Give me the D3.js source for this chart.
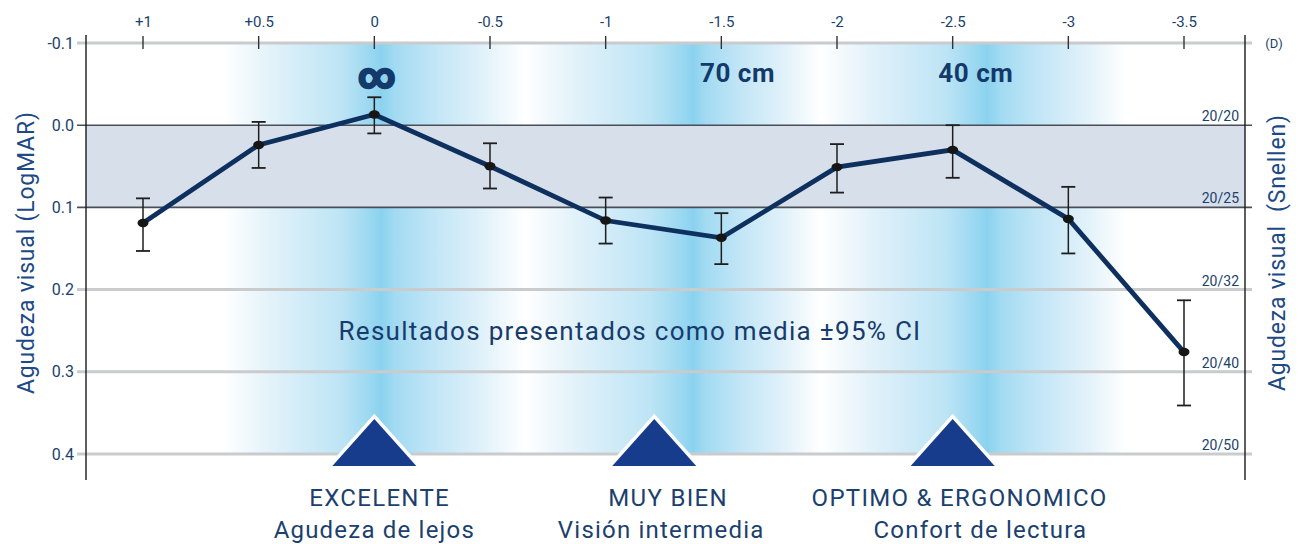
<!DOCTYPE html>
<html>
<head>
<meta charset="utf-8">
<script src="https://cdn.jsdelivr.net/npm/d3@7"></script>
<style>
  html, body { margin: 0; padding: 0; background: #fff; }
  svg { display: block; font-family: Roboto, "Noto Sans", sans-serif; }
</style>
</head>
<body>
<svg id="chart" width="1299" height="544"></svg>
<script>
// Defocus (diopters) and mean visual acuity (LogMAR) with 95% CI
const defocus = [1, 0.5, 0, -0.5, -1, -1.5, -2, -2.5, -3, -3.5];
const defocusLabels = ["+1", "+0.5", "0", "-0.5", "-1", "-1.5", "-2", "-2.5", "-3", "-3.5"];
const logmarMean = [0.119, 0.024, -0.013, 0.050, 0.116, 0.137, 0.051, 0.030, 0.114, 0.276];
const ciLow  = [0.089, -0.004, -0.034, 0.022, 0.088, 0.107, 0.023, 0.000, 0.075, 0.213];
const ciHigh = [0.153, 0.052, 0.010, 0.077, 0.144, 0.169, 0.082, 0.064, 0.156, 0.341];

const logmarTicks = [-0.1, 0.0, 0.1, 0.2, 0.3, 0.4];
const logmarTickLabels = ["-0.1", "0.0", "0.1", "0.2", "0.3", "0.4"];
const snellenValues = [0.0, 0.1, 0.2, 0.3, 0.4];
const snellenLabels = ["20/20", "20/25", "20/32", "20/40", "20/50"];

// Vision zones (diopters): fade-in edge, brightest line, fade-out edge
const zoneStart = [0.65, -0.65, -1.93];
const zonePeak  = [-0.03, -1.38, -2.65];
const zoneEnd   = [-0.65, -1.93, -3.25];
const zoneMarker = [0.0, -1.21, -2.5];
const zoneTitle = ["EXCELENTE", "MUY BIEN", "OPTIMO & ERGONOMICO"];
const zoneSubtitle = ["Agudeza de lejos", "Visión intermedia", "Confort de lectura"];
const zoneTitleAt = [-0.023, -1.27, -2.53];
const zoneSubtitleAt = [0.0, -1.24, -2.62];
const distanceLabels = ["∞", "70 cm", "40 cm"];
const distanceAt = [-0.01, -1.57, -2.6];

const svg = d3.select("#chart");
const textBlue = "#1b3f6e";

const x = d3.scaleLinear().domain([1, -3.5]).range([143, 1184]);
const y = d3.scaleLinear().domain([-0.1, 0.4]).range([43, 454]);
const plotLeft = 86, plotRight = 1245;

// Zone gradients
const defs = svg.append("defs");
zoneStart.forEach((s, i) => {
  const x0 = x(s), x1 = x(zoneEnd[i]), xp = x(zonePeak[i]);
  const p = (xp - x0) / (x1 - x0);
  const g = defs.append("linearGradient")
    .attr("id", "zone" + i).attr("x1", 0).attr("x2", 1).attr("y1", 0).attr("y2", 0);
  const stops = [
    [0, "#ffffff"],
    [p * 0.3, "#e2f2fa"],
    [p * 0.75, "#bde4f5"],
    [p * 0.93, "#9ad8f1"],
    [p, "#8bd2ef"],
    [p + (1 - p) * 0.1, "#a3dbf2"],
    [p + (1 - p) * 0.35, "#c0e5f6"],
    [p + (1 - p) * 0.7, "#e0f1fa"],
    [1, "#ffffff"]
  ];
  stops.forEach(([o, c]) => g.append("stop").attr("offset", o).attr("stop-color", c));
  svg.append("rect")
    .attr("x", x0).attr("width", x1 - x0)
    .attr("y", y(-0.1)).attr("height", y(0.4) - y(-0.1))
    .attr("fill", `url(#zone${i})`);
});

// Good acuity band 0.0 - 0.1
svg.append("rect")
  .attr("x", plotLeft).attr("width", plotRight - plotLeft)
  .attr("y", y(0)).attr("height", y(0.1) - y(0))
  .attr("fill", "#d7e0ea");

// Horizontal grid lines
logmarTicks.forEach(v => {
  const strong = (v === 0 || v === 0.1);
  svg.append("line")
    .attr("x1", 77).attr("x2", 1252)
    .attr("y1", y(v)).attr("y2", y(v))
    .attr("stroke", strong ? "#4a4f57" : "#c9cbcd")
    .attr("stroke-width", strong ? 1.6 : 3);
});

// Vertical axis lines
[plotLeft, plotRight].forEach(px => {
  svg.append("line")
    .attr("x1", px).attr("x2", px).attr("y1", 35).attr("y2", 480)
    .attr("stroke", "#1b1b1b").attr("stroke-width", 1.4);
});

// Top defocus axis
const topAxis = d3.axisTop(x)
  .tickValues(defocus)
  .tickFormat((d, i) => defocusLabels[i])
  .tickSize(0).tickPadding(0);
const gTop = svg.append("g").attr("transform", "translate(0,27)").call(topAxis);
gTop.select(".domain").remove();
gTop.selectAll("text")
  .attr("font-size", 15).attr("fill", textBlue).attr("dy", 0)
  .attr("font-family", "Roboto, sans-serif");
defocus.forEach(d => {
  svg.append("line")
    .attr("x1", x(d)).attr("x2", x(d)).attr("y1", 36).attr("y2", 49)
    .attr("stroke", "#333").attr("stroke-width", 1.4);
});
svg.append("text").attr("x", 1274).attr("y", 48)
  .attr("text-anchor", "middle").attr("font-size", 13).attr("fill", textBlue)
  .text("(D)");

// Left LogMAR axis labels
const leftAxis = d3.axisLeft(y)
  .tickValues(logmarTicks)
  .tickFormat((d, i) => logmarTickLabels[i])
  .tickSize(0).tickPadding(0);
const gLeft = svg.append("g").attr("transform", "translate(74,0)").call(leftAxis);
gLeft.select(".domain").remove();
gLeft.selectAll("text")
  .attr("font-size", 16).attr("fill", textBlue)
  .attr("font-family", "Roboto, sans-serif");

// Snellen labels on the right
snellenValues.forEach((v, i) => {
  svg.append("text")
    .attr("x", 1239).attr("y", y(v) - 4)
    .attr("text-anchor", "end").attr("font-size", 14).attr("fill", textBlue)
    .text(snellenLabels[i]);
});

// Axis titles
svg.append("text")
  .attr("transform", `translate(34,${y(0.155)}) rotate(-90)`)
  .attr("text-anchor", "middle").attr("font-size", 23).attr("letter-spacing", 0.8)
  .attr("fill", "#1d4a85")
  .text("Agudeza visual (LogMAR)");
svg.append("text")
  .attr("transform", `translate(1285,${y(0.155)}) rotate(-90)`)
  .attr("text-anchor", "middle").attr("font-size", 23).attr("letter-spacing", 0.8)
  .attr("fill", "#1d4a85")
  .attr("xml:space", "preserve")
  .text("Agudeza visual  (Snellen)");

// Distance labels inside the zones
distanceLabels.forEach((t, i) => {
  const inf = t === "∞";
  svg.append("text")
    .attr("x", x(distanceAt[i])).attr("y", inf ? 88 : 82)
    .attr("text-anchor", "middle")
    .attr("font-size", inf ? 36 : 26).attr("font-weight", "bold")
    .attr("stroke", inf ? "#133a6a" : "none").attr("stroke-width", inf ? 2.2 : 0)
    .attr("letter-spacing", inf ? 0 : 0.5)
    .attr("fill", "#133a6a")
    .text(t);
});

// Note on the statistics
svg.append("text")
  .attr("x", 630).attr("y", 340).attr("text-anchor", "middle")
  .attr("font-size", 26).attr("letter-spacing", 1.3).attr("fill", "#173c6c")
  .text("Resultados presentados como media ±95% CI");

// Error bars
defocus.forEach((d, i) => {
  const cx = x(d);
  svg.append("line").attr("x1", cx).attr("x2", cx)
    .attr("y1", y(ciLow[i])).attr("y2", y(ciHigh[i]))
    .attr("stroke", "#1e1e1e").attr("stroke-width", 1.5);
  [ciLow[i], ciHigh[i]].forEach(v => {
    svg.append("line").attr("x1", cx - 7).attr("x2", cx + 7)
      .attr("y1", y(v)).attr("y2", y(v))
      .attr("stroke", "#1e1e1e").attr("stroke-width", 1.8);
  });
});

// Mean curve
const line = d3.line().x((d, i) => x(defocus[i])).y(d => y(d));
svg.append("path").datum(logmarMean)
  .attr("d", line)
  .attr("fill", "none").attr("stroke", "#0e305f")
  .attr("stroke-width", 4.8).attr("stroke-linejoin", "miter");
svg.selectAll(".pt").data(logmarMean).enter().append("ellipse")
  .attr("cx", (d, i) => x(defocus[i])).attr("cy", d => y(d))
  .attr("rx", 5.5).attr("ry", 4.2).attr("fill", "#161616");

// Zone markers and captions
zoneMarker.forEach((m, i) => {
  const cx = x(m), base = 466, h = 47, hw = 42;
  svg.append("path")
    .attr("d", `M${cx - hw},${base} L${cx},${base - h} L${cx + hw},${base} Z`)
    .attr("fill", "#163c8b").attr("stroke", "#ffffff").attr("stroke-width", 7)
    .attr("stroke-linejoin", "miter").attr("paint-order", "stroke");
  svg.append("rect").attr("x", cx - hw - 8).attr("y", base).attr("width", 2 * hw + 16).attr("height", 6)
    .attr("fill", "#fff");
  svg.append("text")
    .attr("x", x(zoneTitleAt[i])).attr("y", 506).attr("text-anchor", "middle")
    .attr("font-size", 24).attr("letter-spacing", 1.3)
    .attr("fill", textBlue).text(zoneTitle[i]);
  svg.append("text")
    .attr("x", x(zoneSubtitleAt[i])).attr("y", 538).attr("text-anchor", "middle")
    .attr("font-size", 24).attr("letter-spacing", 1.2)
    .attr("fill", textBlue).text(zoneSubtitle[i]);
});
</script>
</body>
</html>
